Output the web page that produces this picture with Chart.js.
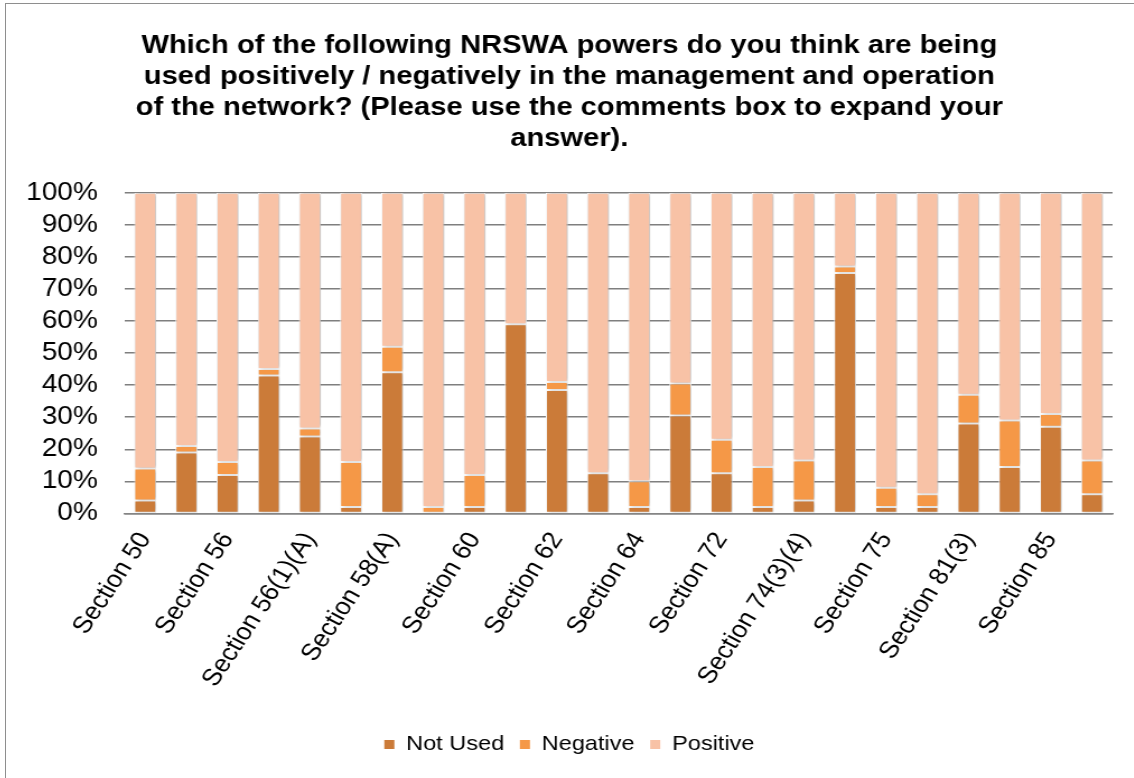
<!DOCTYPE html>
<html>
<head>
<meta charset="utf-8">
<title>NRSWA powers</title>
<script src="https://cdn.jsdelivr.net/npm/chart.js@4.4.1/dist/chart.umd.min.js"></script>
<style>
  html, body { margin: 0; padding: 0; background: #fff; overflow: hidden; }
  #frame {
    position: absolute; left: 5px; top: 3px;
    width: 1140px; height: 800px;
    border: 1px solid #8e8e8e;
    overflow: hidden;
  }
  /* the chart is laid out narrow and widened a little, like the pasted original */
  #chart { display: block; transform: scaleX(1.12); transform-origin: 0 0; }
</style>
</head>
<body>
<div id="frame"><canvas id="chart" width="1018" height="775"></canvas></div>
<script>
const titleLines = [
    "Which of the following NRSWA powers do you think are being",
    "used positively / negatively in the management and operation",
    "of the network? (Please use the comments box to expand your",
    "answer)."
];

const sections = [
    "Section 50", "Section 55", "Section 56", "Section 56A",
    "Section 56(1)(A)", "Section 58", "Section 58(A)", "Section 59",
    "Section 60", "Section 61", "Section 62", "Section 63",
    "Section 64", "Section 66", "Section 72", "Section 74",
    "Section 74(3)(4)", "Section 74A", "Section 75", "Section 79",
    "Section 81(3)", "Section 84", "Section 85", "Section 86"
];

// percentages of respondents
const notUsed  = [4, 19, 12, 43, 24, 2, 44, 0, 2, 59, 38.5, 12.5, 2, 30.5, 12.5, 2, 4, 75, 2, 2, 28, 14.5, 27, 6];
const negative = [10, 2, 4, 2, 2.5, 14, 8, 2, 10, 0, 2.5, 0, 8, 10, 10.5, 12.5, 12.5, 2, 6, 4, 9, 14.5, 4, 10.5];
const positive = [86, 79, 84, 55, 73.5, 84, 48, 98, 88, 41, 59, 87.5, 90, 59.5, 77, 85.5, 83.5, 23, 92, 94, 63, 71, 69, 83.5];

const yTicks = [0, 10, 20, 30, 40, 50, 60, 70, 80, 90, 100];

const colours = {
    notUsed: "#cb7b39",
    negative: "#f59847",
    positive: "#f8c2a6"
};

Chart.defaults.font.family = "'Liberation Sans', Arial, sans-serif";
Chart.defaults.color = "#000";

// soft drop shadow behind the columns
const barShadow = {
    id: "barShadow",
    beforeDatasetsDraw(chart) {
        const ctx = chart.ctx;
        ctx.save();
        ctx.shadowColor = "rgba(0,0,0,0.28)";
        ctx.shadowBlur = 4;
        ctx.shadowOffsetX = 1.5;
        ctx.shadowOffsetY = 0;
    },
    afterDatasetsDraw(chart) {
        chart.ctx.restore();
    }
};

function series(label, data, colour) {
    return {
        label: label,
        data: data,
        backgroundColor: colour,
        borderColor: "#fff",
        borderWidth: 1,
        borderSkipped: false,
        barPercentage: 0.535,
        categoryPercentage: 1
    };
}

new Chart(document.getElementById("chart"), {
    type: "bar",
    data: {
        labels: sections,
        datasets: [
            series("Not Used", notUsed, colours.notUsed),
            series("Negative", negative, colours.negative),
            series("Positive", positive, colours.positive)
        ]
    },
    plugins: [barShadow],
    options: {
        responsive: false,
        animation: false,
        layout: { padding: { left: 18, right: 30, top: 0, bottom: 14 } },
        plugins: {
            title: {
                display: true,
                text: titleLines,
                font: { size: 26, weight: "bold", lineHeight: 1.2 },
                padding: { top: 26, bottom: 38 }
            },
            legend: {
                position: "bottom",
                labels: {
                    font: { size: 21 },
                    boxWidth: 9,
                    boxHeight: 9,
                    padding: 14,
                    generateLabels(chart) {
                        const items = Chart.defaults.plugins.legend.labels.generateLabels(chart);
                        items.forEach(it => { it.lineWidth = 0; it.strokeStyle = it.fillStyle; });
                        return items;
                    }
                }
            },
            tooltip: { enabled: false }
        },
        scales: {
            x: {
                stacked: true,
                grid: { display: false },
                border: { display: true, color: "#858585", width: 1.5 },
                ticks: {
                    autoSkip: false,
                    minRotation: 59,
                    maxRotation: 59,
                    padding: 6,
                    font: { size: 24 },
                    callback(value, index) {
                        return index % 2 === 0 ? this.getLabelForValue(value) : "";
                    }
                },
                afterFit(scale) {
                    // slanted labels fit inside the margins already
                    scale.paddingLeft = 0;
                    scale.paddingRight = 0;
                    scale.height += 22;
                }
            },
            y: {
                stacked: true,
                min: 0,
                max: 100,
                afterBuildTicks(scale) {
                    scale.ticks = yTicks.map(v => ({ value: v }));
                },
                grid: { color: "#7f7f7f", lineWidth: 1.5, drawTicks: false },
                border: { display: false },
                ticks: {
                    autoSkip: false,
                    padding: 24,
                    font: { size: 25 },
                    callback: v => v + "%"
                },
                // padding only between labels and plot, not on the outer side
                afterFit(scale) { scale.width -= 24; }
            }
        }
    }
});
</script>
</body>
</html>
